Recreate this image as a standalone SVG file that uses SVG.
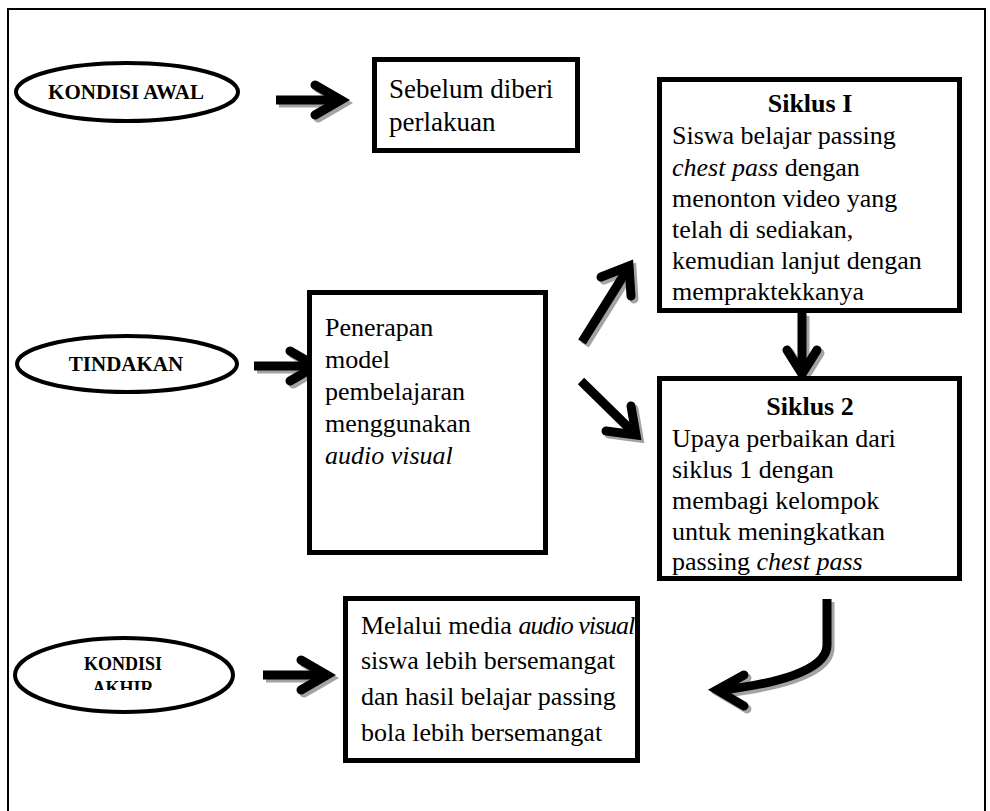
<svg xmlns="http://www.w3.org/2000/svg" xmlns:xlink="http://www.w3.org/1999/xlink" width="990" height="811" viewBox="0 0 990 811">
<style>
.frame{fill:none;stroke:#000;stroke-width:2}
.box{fill:#fff;stroke:#000;stroke-width:5}
.ell{fill:#fff;stroke:#000;stroke-width:4}
.t{font-family:"Liberation Serif","Times New Roman",serif;font-size:26px;fill:#000}
.lbl{font-family:"Liberation Serif","Times New Roman",serif;font-size:21px;font-weight:bold;fill:#000}
.sm{font-size:18px}
.b{font-weight:bold}
.i{font-style:italic}
.shaft{fill:none;stroke-width:9;stroke-linecap:butt}
.head{fill:none;stroke-width:9;stroke-linecap:round;stroke-linejoin:miter;stroke-miterlimit:10}
.sh{stroke:#a3a3a3}
.ar{stroke:#000}
</style>
<defs>
<clipPath id="clipAkhir"><rect x="0" y="600" width="300" height="90"/></clipPath>
<path id="s1" d="M276,100 H336"/>
<path id="h1" d="M315,85 L341,100 L315,115"/>
<path id="s2" d="M254,366 H310"/>
<path id="h2" d="M290,351 L316,366 L290,381"/>
<path id="s3" d="M263,675 H322"/>
<path id="h3" d="M301,660 L327,675 L301,690"/>
<path id="s4" d="M582,342 L627,270"/>
<path id="h4" d="M601,277 L629,266 L631,296"/>
<path id="s5" d="M581,381 L632,431"/>
<path id="h5" d="M631,406 L636,435 L606,431"/>
<path id="s6" d="M802,313 V370"/>
<path id="h6" d="M787,350 L802,374 L817,350"/>
<path id="s7" d="M827,599 L827,645 C827,672 772,684 722,690"/>
<path id="h7" d="M744,675 L717,690 L744,706"/>
</defs>
<rect x="0" y="0" width="990" height="811" fill="#fff"/>
<rect class="frame" x="8" y="9" width="977" height="820"/>

<g id="connectors">
  <g transform="translate(3,3)">
    <use xlink:href="#s1" class="shaft sh"/><use xlink:href="#h1" class="head sh"/>
    <use xlink:href="#s2" class="shaft sh"/><use xlink:href="#h2" class="head sh"/>
    <use xlink:href="#s3" class="shaft sh"/><use xlink:href="#h3" class="head sh"/>
    <use xlink:href="#s4" class="shaft sh"/><use xlink:href="#h4" class="head sh"/>
    <use xlink:href="#s5" class="shaft sh"/><use xlink:href="#h5" class="head sh"/>
    <use xlink:href="#s6" class="shaft sh"/><use xlink:href="#h6" class="head sh"/>
    <use xlink:href="#s7" class="shaft sh"/><use xlink:href="#h7" class="head sh"/>
  </g>
  <use xlink:href="#s1" class="shaft ar"/><use xlink:href="#h1" class="head ar"/>
  <use xlink:href="#s2" class="shaft ar"/><use xlink:href="#h2" class="head ar"/>
  <use xlink:href="#s3" class="shaft ar"/><use xlink:href="#h3" class="head ar"/>
  <use xlink:href="#s4" class="shaft ar"/><use xlink:href="#h4" class="head ar"/>
  <use xlink:href="#s5" class="shaft ar"/><use xlink:href="#h5" class="head ar"/>
  <use xlink:href="#s6" class="shaft ar"/><use xlink:href="#h6" class="head ar"/>
  <use xlink:href="#s7" class="shaft ar"/><use xlink:href="#h7" class="head ar"/>
</g>

<g id="kondisi-awal">
  <ellipse class="ell" cx="127" cy="92" rx="111" ry="29"/>
  <text class="lbl" x="126" y="99" text-anchor="middle">KONDISI AWAL</text>
</g>

<g id="sebelum">
  <rect class="box" x="374.5" y="59.5" width="203" height="91"/>
  <text class="t" x="389" y="98" style="font-size:27px">Sebelum diberi</text>
  <text class="t" x="389" y="131" style="font-size:27px">perlakuan</text>
</g>

<g id="siklus1">
  <rect class="box" x="659.5" y="79.5" width="300" height="231"/>
  <text class="t b" x="810" y="112" text-anchor="middle">Siklus I</text>
  <text class="t" x="672" y="144">Siswa belajar passing</text>
  <text class="t" x="672" y="176"><tspan class="i">chest pass</tspan> dengan</text>
  <text class="t" x="672" y="207">menonton video yang</text>
  <text class="t" x="672" y="238">telah di sediakan,</text>
  <text class="t" x="672" y="269">kemudian lanjut dengan</text>
  <text class="t" x="672" y="300">mempraktekkanya</text>
</g>

<g id="tindakan">
  <ellipse class="ell" cx="127" cy="364" rx="110" ry="28"/>
  <text class="lbl" x="126" y="371" text-anchor="middle">TINDAKAN</text>
</g>

<g id="penerapan">
  <rect class="box" x="309.5" y="292.5" width="236" height="260"/>
  <text class="t" x="325" y="336">Penerapan</text>
  <text class="t" x="325" y="368">model</text>
  <text class="t" x="325" y="400">pembelajaran</text>
  <text class="t" x="325" y="432">menggunakan</text>
  <text class="t i" x="325" y="464">audio visual</text>
</g>

<g id="siklus2">
  <rect class="box" x="659.5" y="378.5" width="300" height="200"/>
  <text class="t b" x="810" y="415" text-anchor="middle">Siklus 2</text>
  <text class="t" x="672" y="447">Upaya perbaikan dari</text>
  <text class="t" x="672" y="478">siklus 1 dengan</text>
  <text class="t" x="672" y="509">membagi kelompok</text>
  <text class="t" x="672" y="540">untuk meningkatkan</text>
  <text class="t" x="672" y="570">passing <tspan class="i">chest pass</tspan></text>
</g>

<g id="kondisi-akhir">
  <ellipse class="ell" cx="124" cy="675" rx="109" ry="37"/>
  <text class="lbl sm" x="123" y="670" text-anchor="middle">KONDISI</text>
  <text class="lbl sm" x="123" y="694" text-anchor="middle" clip-path="url(#clipAkhir)">AKHIR</text>
</g>

<g id="melalui">
  <rect class="box" x="345.5" y="598.5" width="292" height="162"/>
  <text class="t" x="361" y="634">Melalui media <tspan class="i" style="letter-spacing:-1px">audio visual</tspan></text>
  <text class="t" x="361" y="669">siswa lebih bersemangat</text>
  <text class="t" x="361" y="705">dan hasil belajar passing</text>
  <text class="t" x="361" y="741">bola lebih bersemangat</text>
</g>
</svg>
